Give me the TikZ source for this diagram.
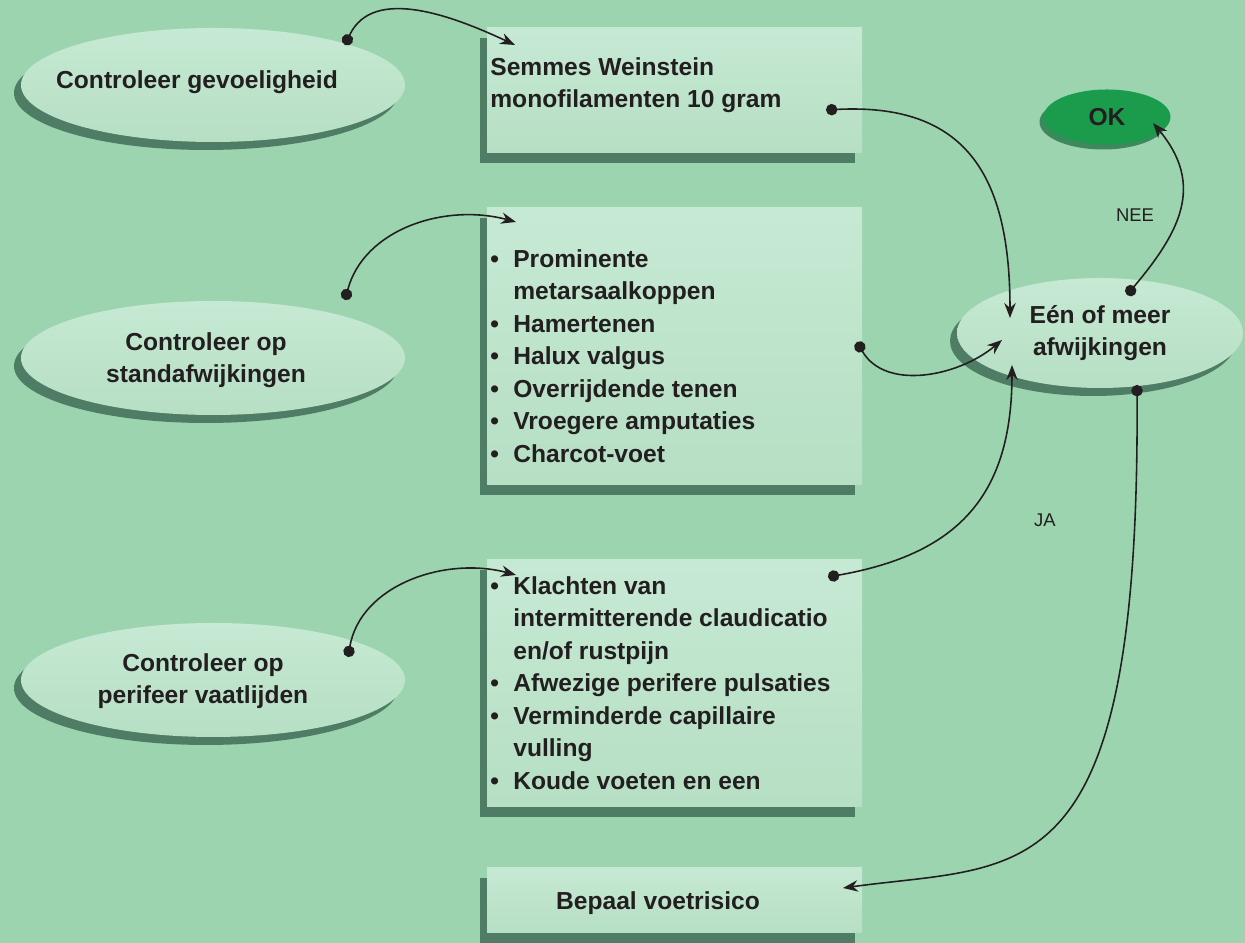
\documentclass[tikz,border=0pt]{standalone}
\usepackage{fontspec}
\setmainfont{Liberation Sans}
\usetikzlibrary{shapes.geometric,shadows,arrows.meta}

\definecolor{bggreen}{HTML}{9CD4AF}
\definecolor{panelgreen}{HTML}{B6DFC4}
\definecolor{panellight}{HTML}{C6E9D3}
\definecolor{shadegreen}{HTML}{426D58}
\definecolor{okgreen}{HTML}{1B9C4C}
\definecolor{okdark}{HTML}{15683A}
\definecolor{inkblack}{HTML}{231F20}

\newcommand\bul{\makebox[0.46cm][l]{•}}
\newcommand\cont{\hspace*{0.46cm}}

\begin{document}
\begin{tikzpicture}[
  font=\fontsize{14pt}{18.5pt}\selectfont\bfseries,
  text=inkblack,
  panel/.style={rectangle, minimum width=7.5cm, inner sep=0pt,
    top color=panellight, bottom color=panelgreen,
    drop shadow={shadow xshift=-0.15cm, shadow yshift=-0.2cm, fill=shadegreen, opacity=0.85}},
  oval/.style={ellipse, inner sep=0pt, top color=panellight, bottom color=panelgreen,
    drop shadow={shadow xshift=-0.14cm, shadow yshift=-0.16cm, fill=shadegreen, opacity=0.85}},
  lbl/.style={inner sep=0pt, align=left},
  link/.style={draw=inkblack, line width=0.9pt, {Circle[length=6.5pt]}-{Stealth[length=8.5pt,width=6.5pt]}},
  ans/.style={font=\fontsize{10.5pt}{12pt}\selectfont\mdseries}
]
\path[use as bounding box, fill=bggreen] (0,0) rectangle (24.9,18.86);

% left column
\node[oval, minimum width=7.68cm, minimum height=2.28cm] (e1) at (4.26,17.16) {};
\node[oval, minimum width=7.68cm, minimum height=2.28cm] (e2) at (4.26,11.70) {};
\node[oval, minimum width=7.68cm, minimum height=2.28cm] (e3) at (4.26,5.26) {};
\node[lbl] (t1) at (3.94,17.22) {Controleer gevoeligheid};
\node[lbl, align=center] (t2) at (4.12,11.66) {Controleer op\\standafwijkingen};
\node[lbl, align=center] (t3) at (4.06,5.24) {Controleer op\\perifeer vaatlijden};

% middle column
\node[panel, minimum height=2.5cm] (b1) at (13.49,17.05) {};
\node[panel, minimum height=5.54cm] (b2) at (13.49,11.93) {};
\node[panel, minimum height=4.94cm] (b3) at (13.49,5.19) {};
\node[panel, minimum height=1.3cm] (b4) at (13.49,0.85) {};

\node[lbl, anchor=north west] (s1) at (9.80,17.72) {Semmes Weinstein\\monofilamenten 10 gram};
\node[lbl, anchor=north west] (s2) at (9.80,13.88) {%
  \bul Prominente\\
  \cont metarsaalkoppen\\
  \bul Hamertenen\\
  \bul Halux valgus\\
  \bul Overrijdende tenen\\
  \bul Vroegere amputaties\\
  \bul Charcot-voet};
\node[lbl, anchor=north west] (s3) at (9.80,7.34) {%
  \bul Klachten van\\
  \cont intermitterende claudicatio\\
  \cont en/of rustpijn\\
  \bul Afwezige perifere pulsaties\\
  \bul Verminderde capillaire\\
  \cont vulling\\
  \bul Koude voeten en een};
\node[lbl] (s4) at (13.16,0.80) {Bepaal voetrisico};

% right column
\node[oval, minimum width=5.72cm, minimum height=2.2cm, align=center] (ee) at (22.0,12.2) {Eén of meer\\afwijkingen};
\node[ellipse, minimum width=2.54cm, minimum height=1.1cm, inner sep=0pt, fill=okgreen,
  drop shadow={shadow xshift=-0.08cm, shadow yshift=-0.1cm, fill=okdark, opacity=0.7}] (ok) at (22.14,16.52) {OK};

\node[ans] (nee) at (22.70,14.56) {NEE};
\node[ans] (ja) at (20.90,8.46) {JA};

% connector ends
\coordinate (e1-out) at (6.90,17.96);
\coordinate (b1-in) at (10.30,17.96);
\coordinate (e2-out) at (6.90,12.86);
\coordinate (b2-in) at (10.32,14.42);
\coordinate (e3-out) at (6.96,5.72);
\coordinate (b3-in) at (10.32,7.36);
\coordinate (b1-out) at (16.52,16.66);
\coordinate (b2-out) at (17.14,12.02);
\coordinate (b3-out) at (16.56,7.32);
\coordinate (ee-in1) at (20.20,12.50);
\coordinate (ee-in2) at (20.04,12.06);
\coordinate (ee-in3) at (20.24,11.56);
\coordinate (ee-up) at (22.54,12.96);
\coordinate (ee-down) at (22.74,11.16);
\coordinate (ok-in) at (23.06,16.40);
\coordinate (b4-in) at (16.86,1.10);

\draw[link] (e1-out) to[out=65,in=155] (b1-in);
\draw[link] (e2-out) to[out=75,in=165] (b2-in);
\draw[link] (e3-out) to[out=80,in=165] (b3-in);
\draw[link] (b1-out) to[out=3,in=90,looseness=1.3] (ee-in1);
\draw[link] (b2-out) to[out=-60,in=-140] (ee-in2);
\draw[link] (b3-out) to[out=10,in=-90,looseness=1.2] (ee-in3);
\draw[link] (ee-up) to[out=50,in=-50,looseness=1.2] (ok-in);
\draw[link] (ee-down) .. controls (22.8,0.9) and (20.5,1.6) .. (b4-in);
\end{tikzpicture}
\end{document}
